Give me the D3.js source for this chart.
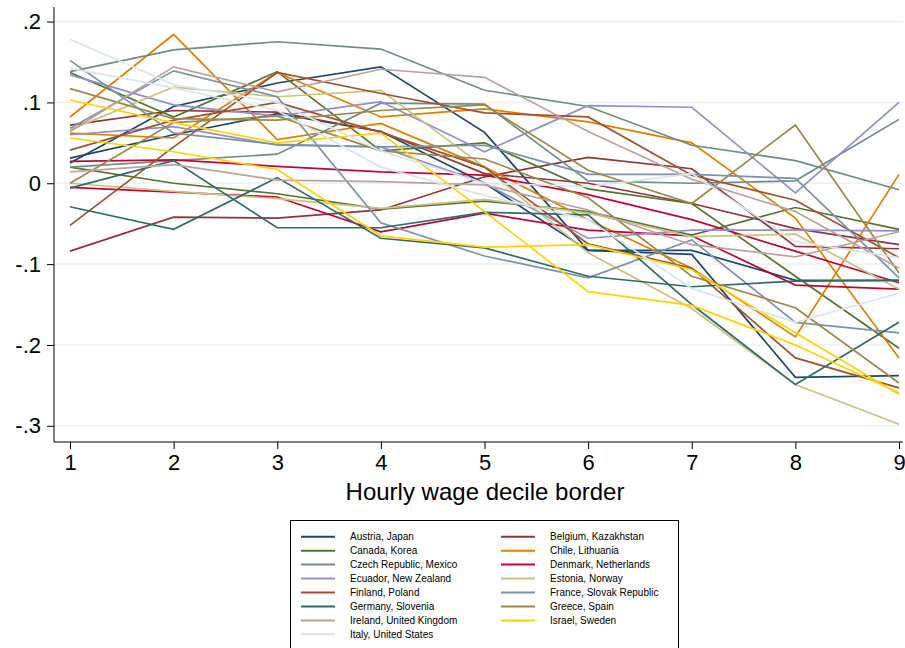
<!DOCTYPE html>
<html>
<head>
<meta charset="utf-8">
<script src="https://cdn.jsdelivr.net/npm/d3@7"></script>
<style>
  body { margin: 0; background: #fff; }
  text { font-family: "Liberation Sans", Arial, sans-serif; fill: #000; }
</style>
</head>
<body>
<div id="chart"></div>
<script>
// decile borders on the x axis
const deciles = [1, 2, 3, 4, 5, 6, 7, 8, 9];
const yTicks = [-0.3, -0.2, -0.1, 0, 0.1, 0.2];

// two countries share each colour, one row per country
const austriaJapan = [
    [0.025, 0.095, 0.124, 0.144, 0.063, -0.083, -0.083, -0.12, -0.12],
    [0.031, 0.06, 0.086, 0.064, 0.0, -0.083, -0.088, -0.24, -0.238]
];
const belgiumKazakhstan = [
    [-0.084, -0.042, -0.043, -0.033, 0.008, 0.032, 0.018, -0.078, -0.081],
    [0.072, 0.09, 0.088, 0.064, 0.012, 0.0, -0.025, -0.056, -0.076]
];
const canadaKorea = [
    [0.137, 0.082, 0.138, 0.04, 0.05, -0.007, -0.025, -0.115, -0.204],
    [0.02, 0.0, -0.013, -0.032, -0.022, -0.035, -0.064, -0.03, -0.057]
];
const chileLithuania = [
    [0.082, 0.184, 0.054, 0.074, 0.02, -0.045, -0.105, -0.19, 0.011],
    [0.062, 0.056, 0.137, 0.082, 0.092, 0.076, 0.05, -0.043, -0.216]
];
const czechMexico = [
    [0.138, 0.165, 0.175, 0.166, 0.115, 0.095, 0.047, 0.028, -0.008],
    [0.02, 0.028, 0.036, 0.099, 0.098, 0.003, 0.0, 0.003, 0.079]
];
const denmarkNetherlands = [
    [0.027, 0.029, 0.021, 0.014, 0.01, -0.014, -0.045, -0.084, -0.123],
    [-0.005, -0.011, -0.017, -0.06, -0.037, -0.058, -0.065, -0.126, -0.131]
];
const ecuadorNewZealand = [
    [0.134, 0.097, 0.083, 0.101, 0.039, 0.096, 0.094, -0.012, 0.1],
    [0.06, 0.07, 0.047, 0.045, 0.0, -0.068, -0.058, -0.058, -0.059]
];
const estoniaNorway = [
    [0.066, 0.119, 0.107, 0.115, 0.02, -0.086, -0.155, -0.249, -0.298],
    [0.0, -0.01, -0.019, -0.031, -0.02, -0.037, -0.066, -0.063, -0.131]
];
const finlandPoland = [
    [-0.052, 0.045, 0.137, 0.111, 0.087, 0.082, 0.01, -0.021, -0.092],
    [0.041, 0.078, 0.1, 0.063, 0.02, -0.075, -0.105, -0.216, -0.253]
];
const franceSlovakia = [
    [0.068, 0.139, 0.107, -0.049, -0.09, -0.117, -0.07, -0.172, -0.185],
    [0.152, 0.062, 0.048, 0.045, 0.047, 0.011, 0.011, 0.006, -0.117]
];
const germanySlovenia = [
    [-0.006, 0.028, -0.055, -0.055, -0.036, -0.039, -0.15, -0.249, -0.172],
    [-0.029, -0.057, 0.007, -0.068, -0.08, -0.115, -0.128, -0.121, -0.12]
];
const greeceSpain = [
    [0.117, 0.08, 0.078, 0.09, 0.097, 0.016, -0.025, 0.072, -0.111],
    [0.0, 0.075, 0.083, 0.04, 0.03, -0.018, -0.115, -0.154, -0.247]
];
const irelandUK = [
    [0.064, 0.144, 0.113, 0.141, 0.131, 0.064, 0.005, -0.035, -0.105],
    [0.014, 0.023, 0.004, 0.002, -0.002, -0.033, -0.076, -0.091, -0.06]
];
const israelSweden = [
    [0.056, 0.039, 0.017, -0.065, -0.079, -0.076, -0.107, -0.185, -0.261],
    [0.103, 0.075, 0.05, 0.062, -0.035, -0.134, -0.151, -0.2, -0.259]
];
const italyUS = [
    [0.178, 0.122, 0.1, 0.04, 0.0, -0.004, 0.012, -0.072, -0.092],
    [0.142, 0.118, 0.09, 0.02, -0.015, -0.045, -0.13, -0.172, -0.136]
];

const groupLabels = [
    "Austria, Japan", "Belgium, Kazakhstan", "Canada, Korea", "Chile, Lithuania",
    "Czech Republic, Mexico", "Denmark, Netherlands", "Ecuador, New Zealand", "Estonia, Norway",
    "Finland, Poland", "France, Slovak Republic", "Germany, Slovenia", "Greece, Spain",
    "Ireland, United Kingdom", "Israel, Sweden", "Italy, United States"
];
const groupValues = [
    austriaJapan, belgiumKazakhstan, canadaKorea, chileLithuania,
    czechMexico, denmarkNetherlands, ecuadorNewZealand, estoniaNorway,
    finlandPoland, franceSlovakia, germanySlovenia, greeceSpain,
    irelandUK, israelSweden, italyUS
];
// stata s2color palette
const groupColors = [
    "#1a476f", "#90353b", "#55752f", "#e37e00", "#6e8e84", "#c10534", "#938dd2", "#cac27e",
    "#a0522d", "#7b92a8", "#2d6d66", "#9c8847", "#bfa19c", "#ffd200", "#d9e6eb"
];

const width = 905, height = 648;
const plotLeft = 54, plotRight = 903, plotTop = 7, plotBottom = 442;

const svg = d3.select("#chart")
    .append("svg")
        .attr("width", width)
        .attr("height", height);

const x = d3.scaleLinear()
    .domain([1, 9])
    .range([70, 899]);

const y = d3.scaleLinear()
    .domain([-0.32, 0.218])
    .range([plotBottom, plotTop]);

// stata style: ".1", "-.2", plain hyphen
const fmt = d => d === 0 ? "0" : d.toFixed(1).replace("0.", ".");

// gridlines
svg.append("g")
    .selectAll("line")
    .data(yTicks)
    .enter()
    .append("line")
        .attr("x1", plotLeft)
        .attr("x2", plotRight)
        .attr("y1", d => y(d))
        .attr("y2", d => y(d))
        .attr("stroke", "#eaf2f3")
        .attr("stroke-width", 1.5);

// lines, drawn pair by pair
const line = d3.line()
    .x((d, i) => x(deciles[i]))
    .y(d => y(d));

const rows = [];
groupValues.forEach((g, gi) => g.forEach(r => rows.push({ values: r, color: groupColors[gi] })));

svg.append("g")
    .selectAll("path")
    .data(rows)
    .enter()
    .append("path")
        .attr("d", d => line(d.values))
        .attr("fill", "none")
        .attr("stroke", d => d.color)
        .attr("stroke-width", 1.7)
        .attr("stroke-linejoin", "miter");

// axes
const yAxis = d3.axisLeft(y)
    .tickValues(yTicks)
    .tickSize(7)
    .tickPadding(6)
    .tickFormat(fmt);

const xAxis = d3.axisBottom(x)
    .tickValues(deciles)
    .tickSize(7)
    .tickPadding(5)
    .tickFormat(d3.format("d"));

const gy = svg.append("g")
    .attr("transform", `translate(${plotLeft},0)`)
    .call(yAxis);
gy.select(".domain").attr("d", `M0,${plotTop}V${plotBottom}`);

const gx = svg.append("g")
    .attr("transform", `translate(0,${plotBottom})`)
    .call(xAxis);
gx.select(".domain").attr("d", `M${plotLeft},0H${plotRight}`);

svg.selectAll(".tick text")
    .attr("font-size", 22)
    .style("font-family", "'Liberation Sans', Arial, sans-serif");
svg.selectAll(".domain, .tick line").attr("stroke", "#000");

svg.append("text")
    .attr("x", 485)
    .attr("y", 500)
    .attr("text-anchor", "middle")
    .attr("font-size", 24)
    .text("Hourly wage decile border");

// legend
const legend = svg.append("g");
legend.append("rect")
    .attr("x", 290.5)
    .attr("y", 520.5)
    .attr("width", 388)
    .attr("height", 140)
    .attr("fill", "#fff")
    .attr("stroke", "#000");

const items = legend.selectAll("g.item")
    .data(groupLabels)
    .enter()
    .append("g")
        .classed("item", true)
        .attr("transform", (d, i) => `translate(${i % 2 ? 501 : 301},${536.7 + Math.floor(i / 2) * 13.95})`);

items.append("line")
    .attr("x1", 0)
    .attr("x2", 34)
    .attr("stroke", (d, i) => groupColors[i])
    .attr("stroke-width", 2);

items.append("text")
    .attr("x", 49)
    .attr("dy", "0.35em")
    .attr("font-size", 10)
    .text(d => d);
</script>
</body>
</html>
